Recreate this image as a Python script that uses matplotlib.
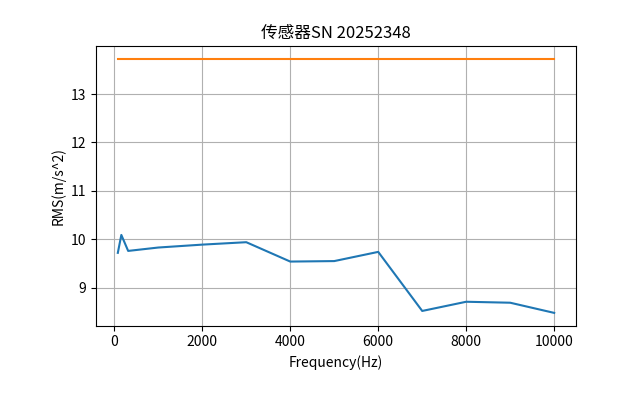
import numpy as np
import matplotlib
matplotlib.use("Agg")
import matplotlib.pyplot as plt

plt.rcParams['font.family'] = ['Noto Sans CJK SC', 'DejaVu Sans']
plt.rcParams['axes.unicode_minus'] = False

# frequencies (Hz) and measured RMS values
freq = [80, 160, 315, 1000, 2000, 3000, 4000, 5000, 6000, 7000, 8000, 9000, 10000]
rms = [9.72, 10.09, 9.76, 9.83, 9.89, 9.94, 9.54, 9.55, 9.74, 8.52, 8.71, 8.69, 8.48]
# reference / limit level
limit = [13.73] * len(freq)

fig, ax = plt.subplots(figsize=(6.4, 4.07), dpi=100)
fig.subplots_adjust(left=0.15, bottom=0.2, right=0.9, top=0.887)
ax.plot(freq, rms)
ax.plot(freq, limit)
ax.set_title("传感器SN 20252348")
ax.set_xlabel("Frequency(Hz)")
ax.set_ylabel("RMS(m/s^2)")
ax.grid(True)
fig.savefig("out.png")
